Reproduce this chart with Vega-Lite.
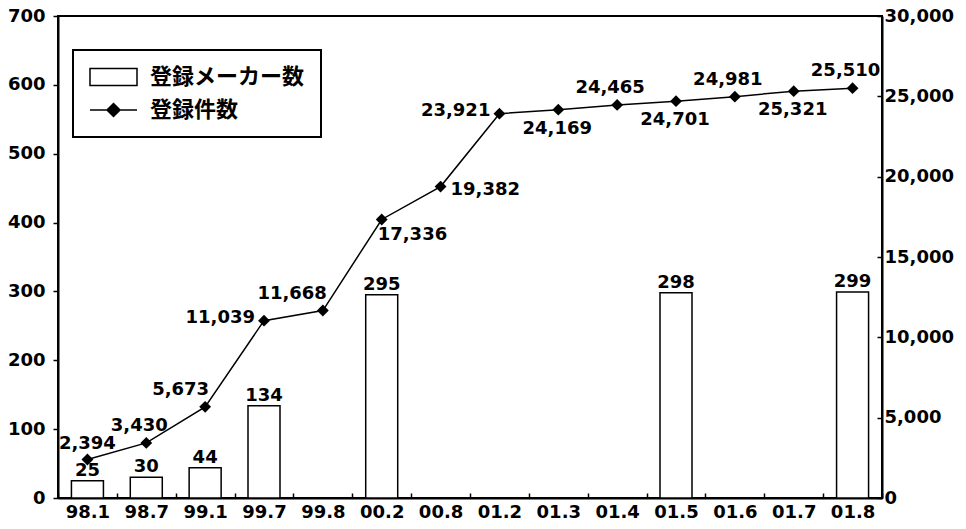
{
  "$schema": "https://vega.github.io/schema/vega-lite/v6.json",
  "width": 824,
  "height": 482,
  "autosize": {"type": "none"},
  "padding": {"left": 58, "top": 16, "right": 84, "bottom": 31},
  "background": "white",
  "config": {
    "font": "DejaVu Sans",
    "view": {"stroke": "black", "strokeWidth": 2},
    "axis": {
      "domainColor": "black", "domainWidth": 2,
      "tickColor": "black", "tickWidth": 1.5,
      "labelColor": "black", "labelFont": "DejaVu Sans", "labelFontWeight": "bold", "labelFontSize": 18,
      "grid": false, "title": null, "labelOverlap": false
    },
    "text": {"font": "DejaVu Sans", "fontWeight": "bold", "fontSize": 18, "color": "black"}
  },
  "datasets": {
    "main": [
      {"date": "98.1", "makers": 25, "count": 2394},
      {"date": "98.7", "makers": 30, "count": 3430},
      {"date": "99.1", "makers": 44, "count": 5673},
      {"date": "99.7", "makers": 134, "count": 11039},
      {"date": "99.8", "makers": null, "count": 11668},
      {"date": "00.2", "makers": 295, "count": 17336},
      {"date": "00.8", "makers": null, "count": 19382},
      {"date": "01.2", "makers": null, "count": 23921},
      {"date": "01.3", "makers": null, "count": 24169},
      {"date": "01.4", "makers": null, "count": 24465},
      {"date": "01.5", "makers": 298, "count": 24701},
      {"date": "01.6", "makers": null, "count": 24981},
      {"date": "01.7", "makers": null, "count": 25321},
      {"date": "01.8", "makers": 299, "count": 25510}
    ],
    "legend": [
      {"series": "登録メーカー数"},
      {"series": "登録件数"}
    ]
  },
  "data": {"name": "main"},
  "encoding": {
    "x": {
      "field": "date", "type": "nominal", "sort": null,
      "scale": {"domain": ["98.1", "98.7", "99.1", "99.7", "99.8", "00.2", "00.8", "01.2", "01.3", "01.4", "01.5", "01.6", "01.7", "01.8"], "paddingInner": 0, "paddingOuter": 0},
      "axis": {"labelAngle": 0, "tickBand": "extent", "tickSize": -5, "labelPadding": 10}
    }
  },
  "layer": [
    {
      "layer": [
        {
          "mark": {"type": "bar", "fill": "white", "stroke": "black", "strokeWidth": 1.5, "size": 32},
          "encoding": {
            "y": {
              "field": "makers", "type": "quantitative",
              "scale": {"domain": [0, 700]},
              "axis": {"orient": "left", "values": [0, 100, 200, 300, 400, 500, 600, 700], "tickSize": 5, "labelPadding": 8}
            }
          }
        },
        {
          "mark": {"type": "text", "baseline": "bottom", "dy": -1},
          "encoding": {
            "y": {"field": "makers", "type": "quantitative"},
            "text": {"field": "makers", "type": "quantitative"}
          }
        },
        {
          "data": {"name": "legend"},
          "transform": [{"filter": "false"}],
          "mark": {"type": "point", "filled": true, "opacity": 1, "stroke": "black", "strokeWidth": 1.5},
          "encoding": {
            "shape": {
              "field": "series", "type": "nominal",
              "scale": {"domain": ["登録メーカー数", "登録件数"], "range": ["M-1,-0.85H3.7V0.85H-1Z", "M-1,0H3.7M1.35,-0.65L2,0L1.35,0.65L0.7,0Z"]},
              "legend": {
                "title": null, "orient": "none", "legendX": 15, "legendY": 34,
                "strokeColor": "black", "fillColor": "white", "padding": 16,
                "symbolSize": 400, "symbolStrokeWidth": 1.5, "symbolStrokeColor": "black", "symbolOpacity": 1,
                "labelFont": "Noto Sans CJK JP", "labelFontSize": 22, "labelFontWeight": "bold", "labelColor": "black",
                "labelOffset": 39, "rowPadding": 10,
                "encode": {"legend": {"update": {"strokeWidth": {"value": 2}}}}
              }
            },
            "fill": {
              "field": "series", "type": "nominal",
              "scale": {"domain": ["登録メーカー数", "登録件数"], "range": ["white", "black"]},
              "legend": {
                "title": null, "orient": "none", "legendX": 15, "legendY": 34,
                "strokeColor": "black", "fillColor": "white", "padding": 16,
                "symbolSize": 400, "symbolStrokeWidth": 1.5, "symbolStrokeColor": "black", "symbolOpacity": 1,
                "labelFont": "Noto Sans CJK JP", "labelFontSize": 22, "labelFontWeight": "bold", "labelColor": "black",
                "labelOffset": 39, "rowPadding": 10,
                "encode": {"legend": {"update": {"strokeWidth": {"value": 2}}}}
              }
            }
          }
        }
      ]
    },
    {
      "layer": [
        {
          "mark": {"type": "line", "color": "black", "strokeWidth": 1.5},
          "encoding": {
            "y": {
              "field": "count", "type": "quantitative",
              "scale": {"domain": [0, 30000]},
              "axis": {"orient": "right", "values": [0, 5000, 10000, 15000, 20000, 25000, 30000], "format": ",d", "tickSize": -5, "labelPadding": 7}
            }
          }
        },
        {
          "mark": {"type": "point", "shape": "diamond", "filled": true, "color": "black", "size": 140, "opacity": 1},
          "encoding": {"y": {"field": "count", "type": "quantitative"}}
        },
        {
          "transform": [{"filter": {"field": "date", "oneOf": ["98.1"]}}],
          "mark": {"type": "text", "align": "center", "baseline": "middle", "dx": 0, "dy": -16},
          "encoding": {"y": {"field": "count", "type": "quantitative"}, "text": {"field": "count", "type": "quantitative", "format": ","}}
        },
        {
          "transform": [{"filter": {"field": "date", "oneOf": ["98.7", "01.4", "01.6", "01.8"]}}],
          "mark": {"type": "text", "align": "center", "baseline": "middle", "dx": -7, "dy": -17},
          "encoding": {"y": {"field": "count", "type": "quantitative"}, "text": {"field": "count", "type": "quantitative", "format": ","}}
        },
        {
          "transform": [{"filter": {"field": "date", "oneOf": ["99.1", "99.8"]}}],
          "mark": {"type": "text", "align": "right", "baseline": "middle", "dx": 4, "dy": -17},
          "encoding": {"y": {"field": "count", "type": "quantitative"}, "text": {"field": "count", "type": "quantitative", "format": ","}}
        },
        {
          "transform": [{"filter": {"field": "date", "oneOf": ["99.7", "01.2"]}}],
          "mark": {"type": "text", "align": "right", "baseline": "middle", "dx": -9, "dy": -3},
          "encoding": {"y": {"field": "count", "type": "quantitative"}, "text": {"field": "count", "type": "quantitative", "format": ","}}
        },
        {
          "transform": [{"filter": {"field": "date", "oneOf": ["01.3", "01.5", "01.7"]}}],
          "mark": {"type": "text", "align": "center", "baseline": "middle", "dx": -1, "dy": 19},
          "encoding": {"y": {"field": "count", "type": "quantitative"}, "text": {"field": "count", "type": "quantitative", "format": ","}}
        },
        {
          "transform": [{"filter": {"field": "date", "oneOf": ["00.2"]}}],
          "mark": {"type": "text", "align": "left", "baseline": "middle", "dx": -4, "dy": 16},
          "encoding": {"y": {"field": "count", "type": "quantitative"}, "text": {"field": "count", "type": "quantitative", "format": ","}}
        },
        {
          "transform": [{"filter": {"field": "date", "oneOf": ["00.8"]}}],
          "mark": {"type": "text", "align": "left", "baseline": "middle", "dx": 10, "dy": 3},
          "encoding": {"y": {"field": "count", "type": "quantitative"}, "text": {"field": "count", "type": "quantitative", "format": ","}}
        }
      ]
    }
  ],
  "resolve": {"scale": {"y": "independent"}}
}
